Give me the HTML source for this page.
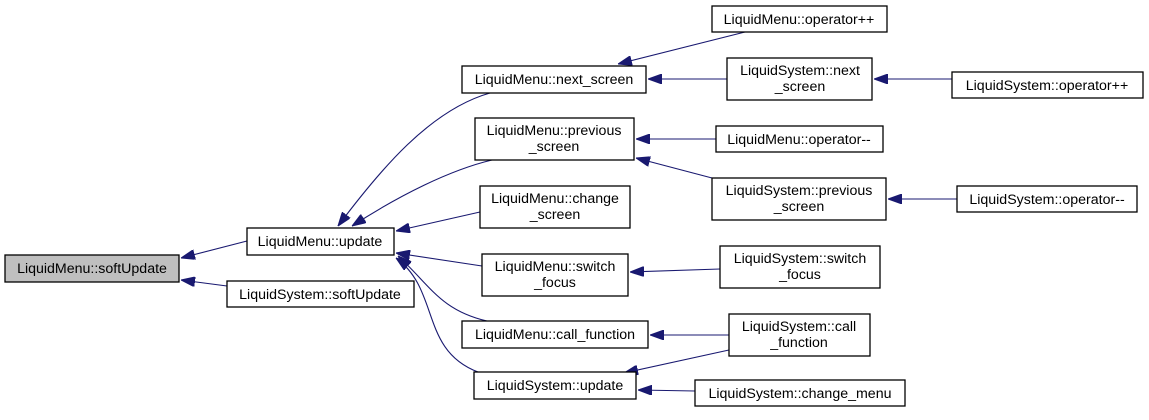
<!DOCTYPE html>
<html><head><style>
body{margin:0;background:#fff;width:1149px;height:415px;overflow:hidden}
text{font-family:"Liberation Sans",Arial,sans-serif;font-size:14.2px;fill:#000;text-anchor:middle}
.b{fill:#fff;stroke:#000;stroke-width:1.3}
.e{fill:none;stroke:#191970;stroke-width:1.1}
</style></head><body>
<svg width="1149" height="415" xmlns="http://www.w3.org/2000/svg">
<defs><marker id="a" markerWidth="14" markerHeight="10" refX="0" refY="5" orient="auto" markerUnits="userSpaceOnUse"><path d="M0,5 L14,0 L14,10 Z" fill="#191970" stroke="#191970"/></marker></defs>
<g class="e">
<path d="M181,258 L247,241" marker-start="url(#a)"/>
<path d="M181,280 L227,286" marker-start="url(#a)"/>
<path d="M338,226 C380,170 430,110 490,93" marker-start="url(#a)"/>
<path d="M352,226 C400,195 450,170 492,160" marker-start="url(#a)"/>
<path d="M396,231 L480,212" marker-start="url(#a)"/>
<path d="M396,253 L482,266" marker-start="url(#a)"/>
<path d="M398,256 C430,285 440,310 487,321" marker-start="url(#a)"/>
<path d="M396,258 C440,290 420,350 478,372" marker-start="url(#a)"/>
<path d="M618,64 L745,32" marker-start="url(#a)"/>
<path d="M648,79 L727,79" marker-start="url(#a)"/>
<path d="M636,139 L716,139" marker-start="url(#a)"/>
<path d="M636,158 L712,178" marker-start="url(#a)"/>
<path d="M630,272 L720,269" marker-start="url(#a)"/>
<path d="M650,335 L729,335" marker-start="url(#a)"/>
<path d="M624,373 L729,350" marker-start="url(#a)"/>
<path d="M638,390 L695,391" marker-start="url(#a)"/>
<path d="M874,79 L952,79" marker-start="url(#a)"/>
<path d="M888,199 L957,199" marker-start="url(#a)"/>
</g>
<rect x="5" y="255" width="174" height="27" fill="#bfbfbf" stroke="#000" stroke-width="1.3"/><text x="92" y="273">LiquidMenu::softUpdate</text>
<rect class="b" x="247" y="228" width="147" height="27"/><text x="320" y="246">LiquidMenu::update</text>
<rect class="b" x="227" y="281" width="187" height="26"/><text x="320" y="299">LiquidSystem::softUpdate</text>
<rect class="b" x="462" y="66" width="184" height="27"/><text x="554" y="84">LiquidMenu::next_screen</text>
<rect class="b" x="475" y="118" width="159" height="42"/><text x="554" y="135">LiquidMenu::previous</text><text x="554" y="151">_screen</text>
<rect class="b" x="480" y="186" width="150" height="42"/><text x="555" y="203">LiquidMenu::change</text><text x="555" y="219">_screen</text>
<rect class="b" x="482" y="254" width="146" height="42"/><text x="555" y="271">LiquidMenu::switch</text><text x="555" y="287">_focus</text>
<rect class="b" x="462" y="321" width="186" height="27"/><text x="555" y="339">LiquidMenu::call_function</text>
<rect class="b" x="474" y="372" width="162" height="27"/><text x="555" y="390">LiquidSystem::update</text>
<rect class="b" x="712" y="6" width="175" height="26"/><text x="799" y="24">LiquidMenu::operator++</text>
<rect class="b" x="727" y="58" width="145" height="42"/><text x="800" y="75">LiquidSystem::next</text><text x="800" y="91">_screen</text>
<rect class="b" x="716" y="126" width="167" height="26"/><text x="799" y="144">LiquidMenu::operator--</text>
<rect class="b" x="712" y="178" width="174" height="42"/><text x="799" y="195">LiquidSystem::previous</text><text x="799" y="211">_screen</text>
<rect class="b" x="720" y="246" width="160" height="42"/><text x="800" y="263">LiquidSystem::switch</text><text x="800" y="279">_focus</text>
<rect class="b" x="729" y="314" width="141" height="42"/><text x="799" y="331">LiquidSystem::call</text><text x="799" y="347">_function</text>
<rect class="b" x="695" y="380" width="210" height="26"/><text x="800" y="398">LiquidSystem::change_menu</text>
<rect class="b" x="952" y="72" width="191" height="26"/><text x="1047" y="90">LiquidSystem::operator++</text>
<rect class="b" x="957" y="186" width="180" height="26"/><text x="1047" y="204">LiquidSystem::operator--</text>
</svg>
</body></html>
